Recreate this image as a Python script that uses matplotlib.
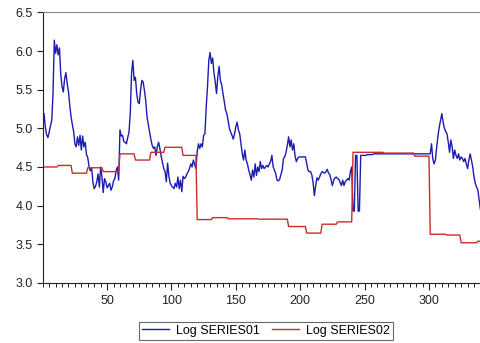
import matplotlib
matplotlib.use("Agg")
import matplotlib.pyplot as plt
from matplotlib.ticker import MultipleLocator
import numpy as np

plt.rcParams["font.family"] = ["Liberation Sans", "DejaVu Sans"]

# Log SERIES01, one value per observation (1..341)
series01 = [
    5.19, 5.02, 4.92, 4.88, 4.95, 5.03, 5.10, 5.45, 6.14, 5.97,
    6.08, 5.95, 6.04, 5.70, 5.54, 5.47, 5.64, 5.72, 5.58, 5.47,
    5.30, 5.15, 5.05, 4.96, 4.80, 4.76, 4.89, 4.78, 4.91, 4.72,
    4.90, 4.76, 4.82, 4.66, 4.62, 4.50, 4.45, 4.49, 4.30, 4.22,
    4.25, 4.31, 4.41, 4.24, 4.50, 4.37, 4.17, 4.35, 4.31, 4.23,
    4.26, 4.29, 4.20, 4.24, 4.32, 4.35, 4.45, 4.50, 4.33, 4.98,
    4.90, 4.91, 4.83, 4.82, 4.80, 4.88, 4.95, 5.19, 5.71, 5.88,
    5.62, 5.66, 5.45, 5.34, 5.32, 5.49, 5.62, 5.60, 5.49, 5.36,
    5.15, 5.05, 4.95, 4.86, 4.78, 4.74, 4.76, 4.65, 4.76, 4.82,
    4.74, 4.64, 4.56, 4.48, 4.44, 4.31, 4.55, 4.38, 4.29, 4.26,
    4.24, 4.22, 4.29, 4.24, 4.37, 4.22, 4.33, 4.18, 4.38, 4.35,
    4.37, 4.41, 4.44, 4.48, 4.54, 4.50, 4.59, 4.53, 4.48, 4.70,
    4.80, 4.74, 4.80, 4.76, 4.91, 4.93, 5.28, 5.54, 5.88, 5.98,
    5.84, 5.91, 5.72, 5.60, 5.45, 5.67, 5.80, 5.62, 5.56, 5.45,
    5.35, 5.24, 5.19, 5.10, 5.00, 4.95, 4.91, 4.86, 4.93, 5.02,
    5.08, 4.98, 4.93, 4.80, 4.67, 4.59, 4.72, 4.59, 4.54, 4.46,
    4.40, 4.33, 4.46, 4.37, 4.54, 4.39, 4.50, 4.44, 4.57, 4.48,
    4.52, 4.48, 4.50, 4.52, 4.50, 4.54, 4.57, 4.65, 4.50, 4.46,
    4.41, 4.33, 4.32, 4.34, 4.40, 4.46, 4.61, 4.63, 4.69, 4.78,
    4.89, 4.76, 4.85, 4.72, 4.80, 4.64, 4.57, 4.61, 4.63, 4.63,
    4.63, 4.63, 4.63, 4.63, 4.55, 4.46, 4.44, 4.44, 4.40, 4.30,
    4.13, 4.26, 4.36, 4.33, 4.37, 4.41, 4.44, 4.43, 4.42, 4.44,
    4.47, 4.42, 4.40, 4.33, 4.26, 4.33, 4.36, 4.37, 4.35, 4.34,
    4.30, 4.26, 4.33, 4.26, 4.31, 4.33, 4.35, 4.33, 4.44, 4.50,
    3.93, 3.93, 4.65, 4.65, 3.93, 3.93, 4.65, 4.65, 4.65, 4.65,
    4.65, 4.66, 4.66, 4.66, 4.66, 4.66, 4.67, 4.67, 4.67, 4.67,
    4.67, 4.67, 4.67, 4.67, 4.67, 4.67, 4.67, 4.67, 4.67, 4.67,
    4.67, 4.67, 4.67, 4.67, 4.67, 4.67, 4.67, 4.67, 4.67, 4.67,
    4.67, 4.67, 4.67, 4.67, 4.67, 4.67, 4.67, 4.67, 4.67, 4.67,
    4.67, 4.67, 4.67, 4.67, 4.67, 4.67, 4.67, 4.67, 4.67, 4.67,
    4.67, 4.80, 4.60, 4.54, 4.59, 4.76, 4.90, 5.02, 5.10, 5.19,
    5.08, 5.00, 4.96, 4.93, 4.82, 4.69, 4.85, 4.76, 4.61, 4.72,
    4.65, 4.61, 4.67, 4.59, 4.63, 4.61, 4.57, 4.61, 4.54, 4.48,
    4.59, 4.67, 4.59, 4.50, 4.37, 4.29, 4.24, 4.20, 4.07, 3.95,
    3.88,
]

# Log SERIES02 is piecewise constant: first observation of each level
series02_start = [1, 12, 23, 35, 47, 60, 72, 84, 95, 109, 120, 132, 144,
                  168, 191, 205, 217, 229, 241, 265, 289, 301, 314, 325, 338]
series02_level = [4.50, 4.52, 4.42, 4.49, 4.44, 4.67, 4.59, 4.69, 4.755,
                  4.65, 3.82, 3.845, 3.83, 3.825, 3.73, 3.645, 3.76, 3.79,
                  4.69, 4.68, 4.64, 3.63, 3.62, 3.52, 3.54]

n_obs = len(series01)
obs = np.arange(1, n_obs + 1)
run_len = np.diff(series02_start + [n_obs + 1])
series02 = np.repeat(series02_level, run_len)

fig = plt.figure(figsize=(4.8, 3.43), dpi=100)
ax = fig.add_axes([0.089, 0.175, 0.92, 0.789])

ax.plot(obs, series01, color="#1c1cb0", lw=1.0, label="Log SERIES01")
ax.plot(obs, series02, color="#cc2b2b", lw=1.0, label="Log SERIES02")

ax.set_xlim(0, 343)
ax.set_ylim(3.0, 6.5)
ax.set_yticks(np.arange(3.0, 6.51, 0.5))
ax.set_yticklabels([f"{v:.1f}" for v in np.arange(3.0, 6.51, 0.5)])
ax.set_xticks([50, 100, 150, 200, 250, 300])
ax.xaxis.set_minor_locator(MultipleLocator(5))

ax.tick_params(axis="both", labelsize=9, colors="#222222", direction="out")
ax.tick_params(axis="x", which="major", length=5, width=0.8, pad=4)
ax.tick_params(axis="x", which="minor", length=3, width=0.6)
ax.tick_params(axis="y", length=4, width=0.8, pad=3)

ax.spines["right"].set_visible(False)
ax.spines["top"].set_color("#888888")
ax.spines["left"].set_color("#222222")
ax.spines["bottom"].set_color("#222222")

leg = ax.legend(loc="upper center", bbox_to_anchor=(0.505, -0.12), ncol=2,
                frameon=True, fancybox=False, fontsize=9, handlelength=2.2,
                borderpad=0.25, columnspacing=1.0, handletextpad=0.5)
leg.get_frame().set_edgecolor("#444444")
leg.get_frame().set_linewidth(0.8)

fig.savefig("out.png", dpi=100)
